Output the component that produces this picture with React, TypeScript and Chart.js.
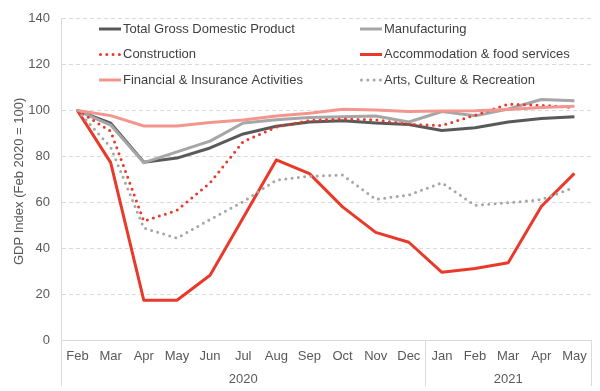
import React, { useEffect, useRef } from "react";
import { Chart, registerables } from "chart.js";
Chart.register(...registerables);

const FONT = '"Liberation Sans", Arial, Helvetica, sans-serif';

const months = ["Feb", "Mar", "Apr", "May", "Jun", "Jul", "Aug", "Sep", "Oct", "Nov", "Dec", "Jan", "Feb", "Mar", "Apr", "May"];
const yearLabels = ["2020", "2021"];
const yearStartIndex = [0, 11];

const seriesNames = [
  "Total Gross Domestic Product",
  "Manufacturing",
  "Construction",
  "Accommodation & food services",
  "Financial & Insurance Activities",
  "Arts, Culture & Recreation",
];

const gdp = [100, 94.5, 77.5, 79.3, 83.7, 89.8, 93.2, 95.0, 95.6, 94.6, 93.9, 91.3, 92.5, 95.0, 96.5, 97.3];
const manufacturing = [100, 93.7, 77.3, 82.0, 86.7, 94.6, 96.0, 97.0, 97.3, 97.6, 95.0, 99.6, 97.7, 100.7, 104.8, 104.3];
const construction = [100, 91.0, 51.8, 56.5, 68.5, 86.5, 92.8, 95.7, 96.3, 96.0, 94.0, 93.5, 98.0, 102.8, 102.3, 101.3];
const accommodation = [100, 77.3, 17.3, 17.3, 28.2, 53.3, 78.5, 72.5, 58.0, 46.9, 42.6, 29.5, 31.2, 33.7, 58.2, 72.6];
const financial = [100, 97.8, 93.3, 93.3, 94.8, 95.9, 97.6, 98.8, 100.6, 100.2, 99.6, 99.8, 99.9, 100.5, 101.3, 101.9];
const arts = [100, 84.0, 48.8, 44.4, 52.5, 60.3, 69.7, 71.4, 71.9, 61.3, 63.2, 68.5, 58.7, 59.8, 61.2, 66.5];

const seriesData = [gdp, manufacturing, construction, accommodation, financial, arts];
const seriesColors = ["#595959", "#a6a6a6", "#e8392b", "#e8392b", "#f2968f", "#a6a6a6"];
const seriesDotted = [false, false, true, false, false, true];

const DOT_DASH = [0, 6.3];

const overlayPlugin = {
  id: "overlay",
  afterDraw(chart: any) {
    const { ctx, chartArea: a, scales } = chart;
    const x = scales.x;
    ctx.save();
    const half = (x.getPixelForValue(1) - x.getPixelForValue(0)) / 2;
    const bounds = [a.left, x.getPixelForValue(yearStartIndex[1]) - half, a.right];
    ctx.strokeStyle = "#d9d9d9";
    ctx.lineWidth = 1;
    bounds.forEach((b) => {
      const bx = Math.round(b) + 0.5;
      ctx.beginPath();
      ctx.moveTo(bx, a.bottom);
      ctx.lineTo(bx, a.bottom + 46);
      ctx.stroke();
    });
    ctx.fillStyle = "#595959";
    ctx.font = `13px ${FONT}`;
    ctx.textAlign = "center";
    ctx.textBaseline = "middle";
    ctx.fillText(yearLabels[0], (bounds[0] + bounds[1]) / 2, a.bottom + 39);
    ctx.fillText(yearLabels[1], (bounds[1] + bounds[2]) / 2, a.bottom + 39);

    // legend
    const colX = [99, 360];
    const rowY = [29, 54.5, 80];
    seriesNames.forEach((name, i) => {
      const cx = colX[i % 2];
      const cy = rowY[Math.floor(i / 2)];
      ctx.save();
      ctx.strokeStyle = seriesColors[i];
      ctx.lineWidth = 3;
      if (seriesDotted[i]) {
        ctx.setLineDash(DOT_DASH);
        ctx.lineCap = "round";
      } else {
        ctx.setLineDash([]);
        ctx.lineCap = "butt";
      }
      ctx.beginPath();
      ctx.moveTo(cx + (seriesDotted[i] ? 1.5 : 0), cy);
      ctx.lineTo(cx + 22, cy);
      ctx.stroke();
      ctx.restore();
      ctx.fillStyle = "#404040";
      ctx.textAlign = "left";
      ctx.textBaseline = "middle";
      ctx.font = `13px ${FONT}`;
      ctx.fillText(name, cx + 24, cy);
    });

    // y title
    ctx.translate(19, (a.top + a.bottom) / 2 + 2);
    ctx.rotate(-Math.PI / 2);
    ctx.textAlign = "center";
    ctx.fillStyle = "#595959";
    ctx.fillText("GDP Index (Feb 2020 = 100)", 0, 0);
    ctx.restore();
  },
};

export default function App() {
  const ref = useRef<HTMLCanvasElement | null>(null);
  useEffect(() => {
    if (!ref.current) return;
    const datasets = seriesNames.map((name, i) => ({
      label: name,
      data: seriesData[i],
      borderColor: seriesColors[i],
      backgroundColor: seriesColors[i],
      borderWidth: 3,
      borderDash: seriesDotted[i] ? DOT_DASH : [],
      borderCapStyle: seriesDotted[i] ? "round" : "butt",
      borderJoinStyle: "round",
      pointRadius: 0,
      tension: 0,
      fill: false,
      order: -i,
    }));
    const chart = new Chart(ref.current, {
      type: "line",
      data: { labels: months, datasets: datasets as any },
      options: {
        responsive: false,
        animation: false,
        layout: { padding: { left: 0, right: 9, top: 12, bottom: 0 } },
        plugins: { legend: { display: false }, tooltip: { enabled: false } },
        scales: {
          x: {
            offset: true,
            grid: { display: false, drawTicks: false },
            border: { display: true, color: "#d9d9d9", width: 1 },
            ticks: {
              font: { size: 13, family: FONT },
              color: "#595959",
              padding: 9,
              autoSkip: false,
              maxRotation: 0,
            },
            afterFit: (s: any) => {
              s.height = 51;
            },
          },
          y: {
            min: 0,
            max: 140,
            ticks: {
              stepSize: 20,
              padding: 11,
              font: { size: 13, family: FONT },
              color: "#595959",
            },
            grid: { color: "#d9d9d9", drawTicks: false },
            border: { display: true, color: "#d9d9d9", width: 1, dash: [4, 3] },
            afterFit: (s: any) => {
              s.width = 61;
            },
          },
        },
      } as any,
      plugins: [overlayPlugin],
    });
    return () => chart.destroy();
  }, []);
  return (
    <div style={{ position: "fixed", left: 0, top: 0, width: 600, height: 391, background: "#fff" }}>
      <canvas ref={ref} width={600} height={391} style={{ display: "block", width: 600, height: 391 }} />
    </div>
  );
}
